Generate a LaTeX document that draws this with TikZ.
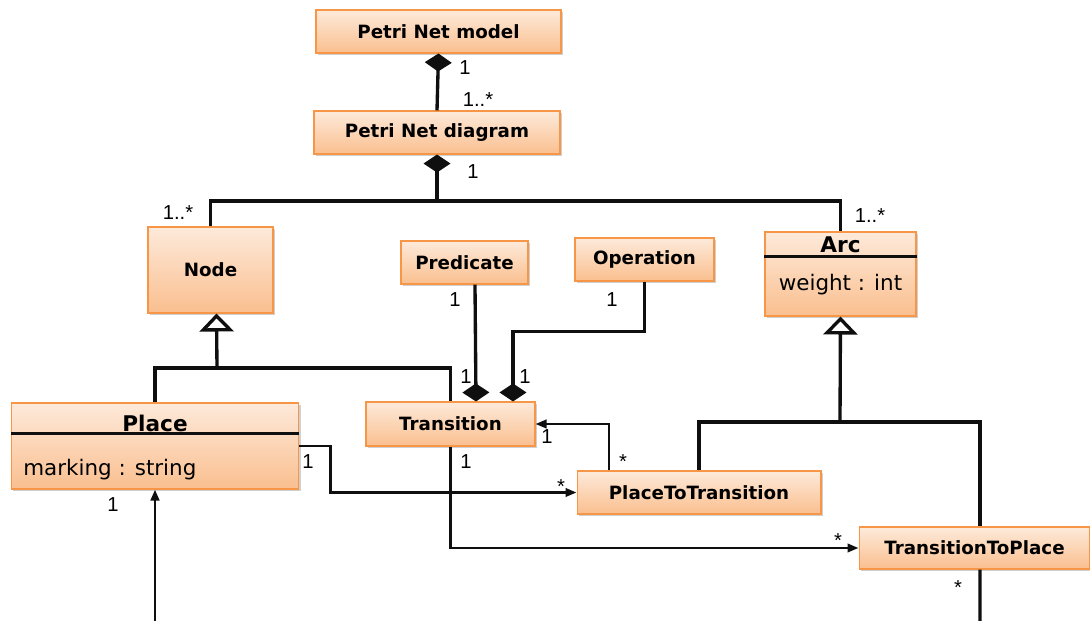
\documentclass[tikz,border=0pt]{standalone}
\usepackage{fontspec}
\usepackage{tikz}
\usetikzlibrary{arrows.meta, shadows}
\newfontfamily\clsfont{DejaVu Sans}
\newfontfamily\mulfont{Liberation Sans}
\definecolor{boxtop}{RGB}{253,234,218}
\definecolor{boxbot}{RGB}{250,191,143}
\definecolor{boxline}{RGB}{247,150,70}
\definecolor{mydark}{RGB}{15,15,15}
\tikzset{
  cls/.style={rectangle, draw=boxline, line width=0.6pt,
    top color=boxtop, bottom color=boxbot, inner sep=0pt,
    drop shadow={shadow xshift=0.04cm, shadow yshift=-0.04cm, fill=black!30, opacity=0.6},
    font=\clsfont\bfseries\fontsize{10.4}{12}\selectfont},
  clsname/.style={inner sep=0pt, font=\clsfont\bfseries\fontsize{12.3}{14}\selectfont},
  attr/.style={inner sep=0pt, font=\clsfont\fontsize{12.2}{14}\selectfont},
  mult/.style={inner sep=0pt, font=\mulfont\fontsize{11.5}{13}\selectfont},
  divider/.style={line width=1.3pt, color=mydark},
  struct/.style={line width=1.9pt, color=mydark},
  nav/.style={line width=1.3pt, color=mydark, -{Triangle[length=0.22cm, width=0.17cm]}},
  comp/.style={line width=1.9pt, color=mydark, -{Diamond[length=0.36cm, width=0.54cm]}},
  gen/.style={line width=1.9pt, color=mydark, -{Triangle[open, length=0.36cm, width=0.68cm]}}
}

\begin{document}
\begin{tikzpicture}[x=0.02cm, y=-0.02cm]
  \fill[white] (0,0) rectangle (1090,621);
  \useasboundingbox (0,0) rectangle (1090,621);

  % Classes
  \node[cls, minimum width=4.9cm, minimum height=0.86cm] (model) at (438.5,31.5) {Petri Net model};
  \node[cls, minimum width=4.92cm, minimum height=0.86cm] (diagram) at (437,132.5) {Petri Net diagram};
  \node[cls, minimum width=2.5cm, minimum height=1.72cm] (node) at (210.5,270) {Node};
  \node[cls, minimum width=2.54cm, minimum height=0.86cm] (pred) at (464.5,262.5) {Predicate};
  \node[cls, minimum width=2.78cm, minimum height=0.86cm] (op) at (644.5,259.5) {Operation};
  \node[cls, minimum width=3.02cm, minimum height=1.68cm] (arc) at (840.5,274) {};
  \node[cls, minimum width=5.76cm, minimum height=1.72cm] (place) at (155,446) {};
  \node[cls, minimum width=3.38cm, minimum height=0.88cm] (trans) at (450.5,424) {Transition};
  \node[cls, minimum width=4.88cm, minimum height=0.86cm] (p2t) at (699,492.5) {PlaceToTransition};
  \node[cls, minimum width=4.62cm, minimum height=0.84cm] (t2p) at (974.5,548) {TransitionToPlace};

  % Compartments
  \node[clsname] (arcname) at (840.5,245) {Arc};
  \draw[divider] ([yshift=-0.5cm]arc.north west) -- ([yshift=-0.5cm]arc.north east);
  \node[attr] (arcattr) at (840.5,285) {weight : int};
  \node[clsname] (placename) at (155,423) {Place};
  \draw[divider] ([yshift=-0.62cm]place.north west) -- ([yshift=-0.62cm]place.north east);
  \node[attr, anchor=west] (placeattr) at (23,470) {marking : string};

  % Junctions
  \coordinate (hub) at (437,201);
  \coordinate (gen1) at (217,368);
  \coordinate (gen2) at (840,422);
  \coordinate (edgeA) at (155,621);
  \coordinate (edgeB) at (980,621);

  % Composition
  \draw[comp] (diagram.north) -- (model.south);
  \draw[comp] (hub) -- (diagram.south);
  \draw[struct] (node.north) |- (hub) -| (arc.north);
  \draw[comp] ([xshift=0.21cm]pred.south) -- ([xshift=0.51cm]trans.north);
  \draw[comp] (op.south) -- ++(0,50) -| ([xshift=1.25cm]trans.north);

  % Generalization
  \draw[gen] (gen1) -- ([xshift=0.12cm]node.south);
  \draw[struct] (place.north) |- (gen1) -| (trans.north);
  \draw[gen] (gen2) -- (arc.south);
  \draw[struct] (p2t.north) |- (gen2) -| ([xshift=0.11cm]t2p.north);

  % Associations
  \draw[nav] ([xshift=-1.8cm]p2t.north) |- (trans.east);
  \draw[nav] (place.east) -- ++(31,0) |- (p2t.west);
  \draw[nav] (trans.south) |- (t2p.west);
  \draw[struct] ([xshift=0.11cm]t2p.south) -- (edgeB);
  \draw[nav, line width=1.6pt] (edgeA) -- (place.south);

  % Multiplicities
  \node[mult] (m1) at (465,68) {1};
  \node[mult] (m2) at (478,100) {1..*};
  \node[mult] (m3) at (473,172) {1};
  \node[mult] (m4) at (178,213) {1..*};
  \node[mult] (m5) at (870,216) {1..*};
  \node[mult] (m6) at (455,300) {1};
  \node[mult] (m7) at (466,377) {1};
  \node[mult] (m8) at (612,300) {1};
  \node[mult] (m9) at (525,377) {1};
  \node[mult] (m10) at (547,437) {1};
  \node[mult] (m11) at (623,462) {*};
  \node[mult] (m12) at (308,462) {1};
  \node[mult] (m13) at (561,487) {*};
  \node[mult] (m14) at (466,462) {1};
  \node[mult] (m15) at (838,541) {*};
  \node[mult] (m16) at (958,588) {*};
  \node[mult] (m17) at (113,505) {1};
\end{tikzpicture}
\end{document}
